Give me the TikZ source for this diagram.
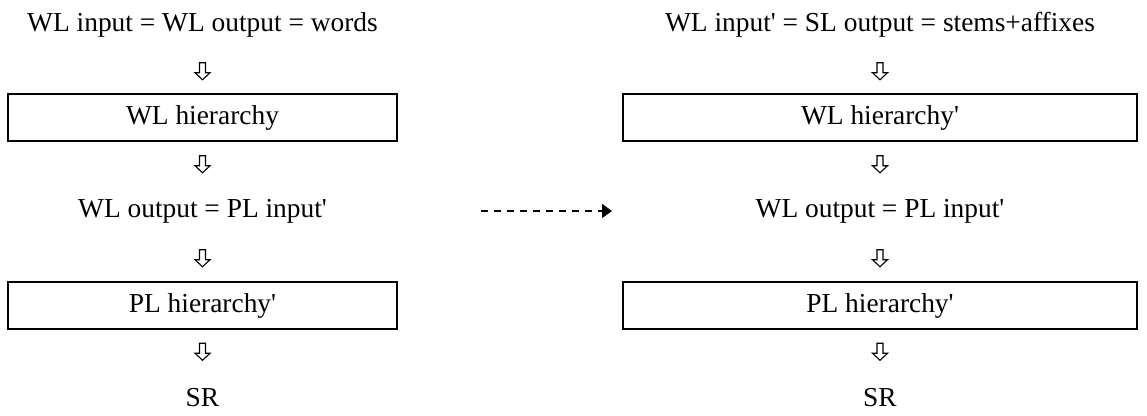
\documentclass[tikz,border=0pt]{standalone}
\usepackage{fontspec}
\setmainfont{Liberation Serif}[Ligatures=TeXOff]
\usetikzlibrary{arrows.meta,calc}
\tikzset{
  lbl/.style={font=\fontsize{13.7}{16}\selectfont, inner sep=0pt, anchor=center},
  hbox/.style={lbl, draw, line width=1pt, minimum height=23.5pt},
  hollowarrow/.pic={\draw[line width=0.55pt, line join=miter]
     (-3,-8.5) -- (3,-8.5) -- (3,1.5) -- (7.5,1.5) -- (0,8.5) -- (-7.5,1.5) -- (-3,1.5) -- cycle;},
  dasharrow/.style={line width=0.9pt, dash pattern=on 3.5pt off 3pt,
     -{Triangle[length=5pt,width=7pt]}}
}
\begin{document}
\begin{tikzpicture}[x=0.5pt,y=-0.5pt]
\useasboundingbox (0,0) rectangle (1147,416);
% left column
\node[lbl] (lt) at (202.5,25) {WL input = WL output = words};
\node[hbox, minimum width=194.5pt] (lb1) at (202.5,117.5) {WL hierarchy};
\node[lbl] (lm) at (202.5,211) {WL output = PL input'};
\node[hbox, minimum width=194.5pt] (lb2) at (202.5,305.5) {PL hierarchy'};
\node[lbl] (ls) at (202.5,398) {SR};
% right column
\node[lbl] (rt) at (880,25) {WL input' = SL output = stems+affixes};
\node[hbox, minimum width=257pt] (rb1) at (880,117.5) {WL hierarchy'};
\node[lbl] (rm) at (880,211) {WL output = PL input'};
\node[hbox, minimum width=257pt] (rb2) at (880,305.5) {PL hierarchy'};
\node[lbl] (rs) at (880,398) {SR};
% hollow arrows
\foreach \a/\b in {lt/lb1, lb1/lm, lm/lb2, lb2/ls, rt/rb1, rb1/rm, rm/rb2, rb2/rs}
  \pic at ($(\a)!0.5!(\b)$) {hollowarrow};
% dashed arrow
\coordinate (ds) at (481,211);
\coordinate (de) at (612,211);
\draw[dasharrow] (ds) -- (de);
\end{tikzpicture}
\end{document}
